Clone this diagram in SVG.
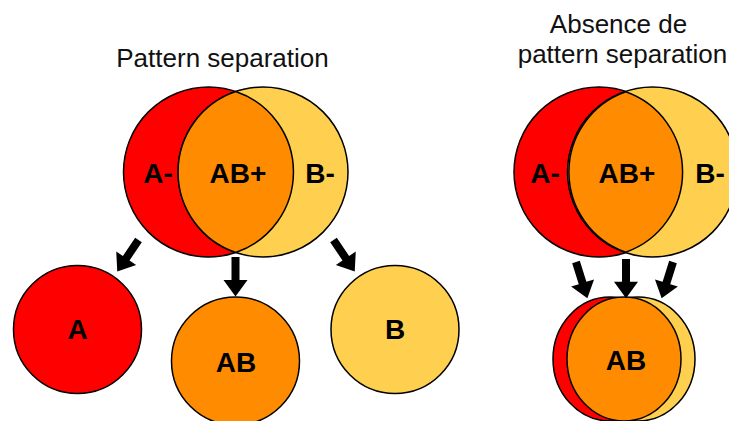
<svg xmlns="http://www.w3.org/2000/svg" xmlns:xlink="http://www.w3.org/1999/xlink" width="729" height="421" viewBox="0 0 729 421">
  <style>
    .c { stroke: #000; stroke-width: 1.5; }
    .red { fill: #FF0000; }
    .org { fill: #FF8C00; }
    .yel { fill: #FFD04F; }
    .lbl { font-family: "Liberation Sans", Arial, sans-serif; font-weight: bold; font-size: 28px; fill: #000; text-anchor: middle; }
    .ttl { font-family: "Liberation Sans", Arial, sans-serif; font-size: 26px; fill: #111; text-anchor: middle; }
    .arr { fill: #000; }
  </style>
  <defs>
    <path id="arrow" d="M -4 0 H 4 V 22 H 12 L 0 38 L -12 22 H -4 Z"/>
  </defs>
  <rect width="729" height="421" fill="#fff"/>

  <g id="title-left">
    <text class="ttl" x="222.5" y="67">Pattern separation</text>
  </g>
  <g id="title-right">
    <text class="ttl" x="618.5" y="33">Absence de</text>
    <text class="ttl" x="622.5" y="63">pattern separation</text>
  </g>

  <g id="venn-left">
    <circle class="c red" cx="208.5" cy="172" r="85"/>
    <circle class="c yel" cx="263" cy="172" r="85"/>
    <path class="c org" d="M 235.75 91.5 A 85 85 0 0 1 235.75 252.5 A 85 85 0 0 1 235.75 91.5 Z"/>
    <text class="lbl" x="158" y="183">A-</text>
    <text class="lbl" x="238" y="183">AB+</text>
    <text class="lbl" x="320" y="183">B-</text>
  </g>

  <g id="node-A">
    <circle class="c red" cx="77.5" cy="329.5" r="64"/>
    <text class="lbl" x="77.5" y="339">A</text>
  </g>
  <g id="node-AB">
    <circle class="c org" cx="235.5" cy="361" r="64"/>
    <text class="lbl" x="236" y="372">AB</text>
  </g>
  <g id="node-B">
    <circle class="c yel" cx="395" cy="329.5" r="64"/>
    <text class="lbl" x="395" y="339">B</text>
  </g>

  <g id="venn-right">
    <circle class="c red" cx="599" cy="172" r="85"/>
    <circle class="c yel" cx="652.5" cy="172" r="85"/>
    <path class="c org" d="M 625.75 91.8 A 85 85 0 0 1 625.75 252.2 A 85 85 0 0 1 625.75 91.8 Z"/>
    <text class="lbl" x="545" y="183">A-</text>
    <text class="lbl" x="627" y="183">AB+</text>
    <text class="lbl" x="710" y="183">B-</text>
  </g>

  <g id="node-AB-merged">
    <ellipse class="c red" cx="610" cy="359" rx="57" ry="62"/>
    <ellipse class="c yel" cx="638" cy="359" rx="57" ry="62"/>
    <ellipse class="c org" cx="624" cy="359" rx="57" ry="62"/>
    <text class="lbl" x="626" y="370">AB</text>
  </g>

  <g id="connectors">
    <use xlink:href="#arrow" class="arr" transform="translate(138.5 240) rotate(34)"/>
    <use xlink:href="#arrow" class="arr" transform="translate(235.5 257) scale(1 1.04)"/>
    <use xlink:href="#arrow" class="arr" transform="translate(333.5 240) rotate(-34)"/>
    <use xlink:href="#arrow" class="arr" transform="translate(576 262) rotate(-17.4)"/>
    <use xlink:href="#arrow" class="arr" transform="translate(626 259) scale(1 1.03)"/>
    <use xlink:href="#arrow" class="arr" transform="translate(673 262) rotate(17.4)"/>
  </g>
</svg>
